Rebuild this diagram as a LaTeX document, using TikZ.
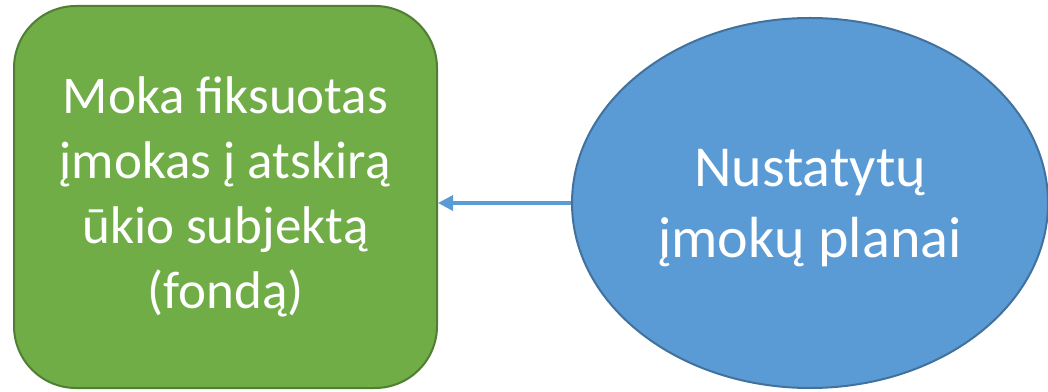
\documentclass[tikz,border=0pt]{standalone}
\usepackage{fontspec}
\setmainfont{Carlito}
\usetikzlibrary{shapes.geometric,arrows.meta}
\definecolor{gfill}{HTML}{70AD47}
\definecolor{gline}{HTML}{507E32}
\definecolor{bfill}{HTML}{5B9BD5}
\definecolor{bline}{HTML}{41719C}
\tikzset{
  box/.style={draw=gline, fill=gfill, line width=2pt, rounded corners=62pt,
    minimum width=423pt, minimum height=382pt, inner sep=0pt, text=white,
    align=center, font=\fontsize{53}{65}\selectfont},
  oval/.style={ellipse, draw=bline, fill=bfill, line width=2pt,
    minimum width=476pt, minimum height=370pt, inner sep=0pt, text=white,
    align=center, font=\fontsize{58}{71}\selectfont},
  link/.style={draw=bfill, line width=3.5pt, -{Triangle[length=15pt,width=15pt]}}
}
\begin{document}
\begin{tikzpicture}[x=1pt,y=1pt]
\useasboundingbox (0,0) rectangle (1048,391);
\node[box] (a) at (225.5,194) {Moka fiksuotas\\įmokas į atskirą\\ūkio subjektą\\(fondą)};
\node[oval] (b) at (810,188) {};
\node[text=white, align=center, font=\fontsize{58}{71}\selectfont] (bt) at ([yshift=-5pt]b.center) {Nustatytų\\įmokų planai};
\draw[link] (b.west) -- (a.east |- b.west);
\end{tikzpicture}
\end{document}
